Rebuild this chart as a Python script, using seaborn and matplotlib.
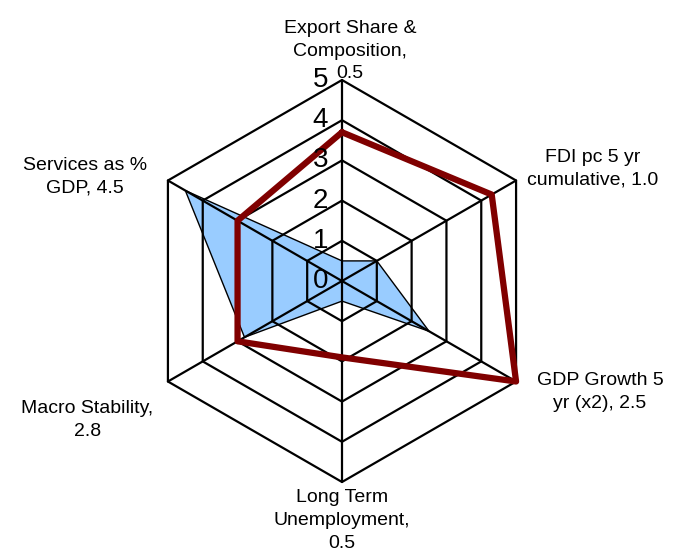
import numpy as np
import pandas as pd
import matplotlib
matplotlib.use("Agg")
import matplotlib.pyplot as plt
import seaborn as sns

# axis labels, clockwise from the top
axis_labels = ["Export Share &\nComposition,\n0.5",
               "FDI pc 5 yr\ncumulative, 1.0",
               "GDP Growth 5\nyr (x2), 2.5",
               "Long Term\nUnemployment,\n0.5",
               "Macro Stability,\n2.8",
               "Services as %\nGDP, 4.5"]
blue_values = [0.5, 1.0, 2.5, 0.5, 2.8, 4.5]
red_values = [3.7, 4.3, 5.0, 1.9, 3.0, 3.0]
ring_levels = [1, 2, 3, 4, 5]
tick_values = [0, 1, 2, 3, 4, 5]
tick_labels = ["0", "1", "2", "3", "4", "5"]

sns.set_theme(style="white")
plt.rcParams['font.family'] = ['Liberation Sans', 'DejaVu Sans']
plt.rcParams['text.color'] = 'black'

n = len(axis_labels)
theta = np.deg2rad(90 - 360 / n * np.arange(n))


def to_xy(vals):
    r = np.append(vals, vals[0])
    t = np.append(theta, theta[0])
    return r * np.cos(t), r * np.sin(t)


fig = plt.figure(figsize=(6.75, 5.57), dpi=100)
ax = fig.add_axes([0, 0, 1, 1])
unit = 40.2  # pixels per value unit
ax.set_xlim(-342 / unit, 333 / unit)
ax.set_ylim(-276 / unit, 281 / unit)
ax.set_aspect('equal')
ax.axis('off')

# blue area
bx, by = to_xy(blue_values)
ax.fill(bx, by, facecolor='#99CCFF', edgecolor='black', linewidth=1.0, zorder=1)

# hexagonal grid + spokes
for lev in ring_levels:
    gx, gy = to_xy([lev] * n)
    ax.plot(gx, gy, color='black', linewidth=1.6, zorder=2)
for t in theta:
    ax.plot([0, max(ring_levels) * np.cos(t)], [0, max(ring_levels) * np.sin(t)],
            color='black', linewidth=1.6, zorder=2)

# red line
rx, ry = to_xy(red_values)
df = pd.DataFrame({'x': rx, 'y': ry})
sns.lineplot(data=df, x='x', y='y', sort=False, estimator=None, color='#800000',
             linewidth=4.5, ax=ax, zorder=3)
ax.set_xlabel('')
ax.set_ylabel('')

# radial tick labels along the top spoke
for v, lab in zip(tick_values, tick_labels):
    ax.text(-0.35, v, lab, ha='right', va='center', fontsize=20, zorder=4)

# category labels
label_pos = [(0.2, 5.72), (6.24, 2.79), (6.42, -2.76),
             (0.0, -5.95), (-6.34, -3.46), (-6.39, 2.59)]
for (x, y), lab in zip(label_pos, axis_labels):
    ax.text(x, y, lab, ha='center', va='center', fontsize=14,
            linespacing=1.45, zorder=4)

fig.savefig('out.png', dpi=100)
